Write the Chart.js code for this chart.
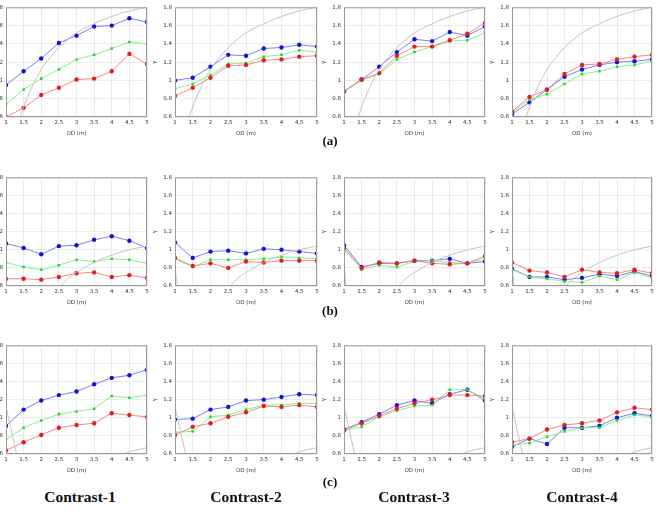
<!DOCTYPE html>
<html>
<head>
<meta charset="utf-8">
<script src="https://cdn.jsdelivr.net/npm/chart.js@4.4.1/dist/chart.umd.min.js"></script>
<style>
  html, body { margin: 0; padding: 0; background: #fff; }
  body { width: 660px; height: 512px; position: relative; overflow: hidden; }
  .panel { position: absolute; }
  .lbl { position: absolute; font-family: "Liberation Serif", serif; font-weight: bold; color: #111; text-align: center; }
</style>
</head>
<body>
<div id="wrap"></div>
<div class="lbl" style="left:300px;top:133px;width:60px;font-size:13px">(a)</div>
<div class="lbl" style="left:300px;top:303px;width:60px;font-size:13px">(b)</div>
<div class="lbl" style="left:300px;top:474px;width:60px;font-size:13px">(c)</div>
<div class="lbl" style="left:10px;top:488px;width:140px;font-size:15.5px">Contrast-1</div>
<div class="lbl" style="left:176px;top:488px;width:140px;font-size:15.5px">Contrast-2</div>
<div class="lbl" style="left:344px;top:488px;width:140px;font-size:15.5px">Contrast-3</div>
<div class="lbl" style="left:512px;top:488px;width:140px;font-size:15.5px">Contrast-4</div>

<script>
// Valores de OD (eje x) y ticks
const odValues = [1, 1.5, 2, 2.5, 3, 3.5, 4, 4.5, 5];
const xTicks = [1, 1.5, 2, 2.5, 3, 3.5, 4, 4.5, 5];
const yTicks = [0.6, 0.8, 1, 1.2, 1.4, 1.6, 1.8];

// Fila (a)
const a1Blue  = [0.95, 1.10, 1.24, 1.41, 1.49, 1.59, 1.60, 1.68, 1.64];
const a1Green = [0.74, 0.90, 1.02, 1.12, 1.23, 1.28, 1.35, 1.42, 1.40];
const a1Red   = [0.60, 0.70, 0.84, 0.92, 1.01, 1.02, 1.10, 1.29, 1.18];
const a2Blue  = [1.00, 1.03, 1.15, 1.28, 1.27, 1.35, 1.36, 1.39, 1.37];
const a2Green = [0.91, 0.96, 1.06, 1.18, 1.19, 1.26, 1.28, 1.33, 1.31];
const a2Red   = [0.83, 0.92, 1.03, 1.16, 1.17, 1.22, 1.23, 1.26, 1.27];
const a3Blue  = [0.88, 1.01, 1.15, 1.31, 1.45, 1.43, 1.53, 1.49, 1.59];
const a3Green = [0.88, 1.00, 1.07, 1.23, 1.31, 1.37, 1.43, 1.44, 1.52];
const a3Red   = [0.88, 1.01, 1.08, 1.27, 1.37, 1.37, 1.44, 1.51, 1.63];
const a4Blue  = [0.63, 0.76, 0.90, 1.04, 1.12, 1.17, 1.20, 1.21, 1.23];
const a4Green = [0.65, 0.79, 0.85, 0.96, 1.07, 1.10, 1.15, 1.17, 1.21];
const a4Red   = [0.66, 0.82, 0.90, 1.07, 1.17, 1.18, 1.23, 1.26, 1.28];

// Fila (b)
const b1Blue  = [1.07, 1.02, 0.95, 1.04, 1.05, 1.11, 1.15, 1.10, 1.02];
const b1Green = [0.86, 0.81, 0.78, 0.83, 0.89, 0.87, 0.90, 0.89, 0.85];
const b1Red   = [0.68, 0.68, 0.67, 0.70, 0.74, 0.75, 0.70, 0.72, 0.69];
const b2Blue  = [1.08, 0.91, 0.98, 0.99, 0.96, 1.01, 1.00, 0.98, 0.96];
const b2Green = [0.90, 0.81, 0.89, 0.89, 0.89, 0.90, 0.92, 0.91, 0.90];
const b2Red   = [0.91, 0.82, 0.85, 0.80, 0.87, 0.86, 0.88, 0.88, 0.88];
const b3Blue  = [1.05, 0.81, 0.85, 0.85, 0.88, 0.88, 0.90, 0.85, 0.87];
const b3Green = [1.00, 0.78, 0.83, 0.81, 0.87, 0.88, 0.86, 0.85, 0.90];
const b3Red   = [1.02, 0.80, 0.86, 0.85, 0.88, 0.85, 0.84, 0.85, 0.93];
const b4Blue  = [0.79, 0.70, 0.70, 0.67, 0.69, 0.73, 0.71, 0.76, 0.71];
const b4Green = [0.78, 0.70, 0.68, 0.65, 0.64, 0.71, 0.67, 0.75, 0.69];
const b4Red   = [0.86, 0.77, 0.75, 0.70, 0.78, 0.75, 0.74, 0.78, 0.74];

// Fila (c)
const c1Blue  = [0.91, 1.09, 1.19, 1.25, 1.29, 1.37, 1.44, 1.47, 1.53];
const c1Green = [0.76, 0.89, 0.97, 1.04, 1.07, 1.10, 1.24, 1.22, 1.25];
const c1Red   = [0.64, 0.73, 0.81, 0.89, 0.92, 0.94, 1.05, 1.03, 1.01];
const c2Blue  = [0.98, 0.99, 1.09, 1.12, 1.19, 1.20, 1.23, 1.26, 1.25];
const c2Green = [0.84, 0.85, 1.01, 1.03, 1.09, 1.14, 1.14, 1.16, 1.16];
const c2Red   = [0.81, 0.90, 0.94, 1.01, 1.06, 1.13, 1.12, 1.14, 1.12];
const c3Blue  = [0.87, 0.95, 1.04, 1.14, 1.19, 1.16, 1.26, 1.31, 1.19];
const c3Green = [0.86, 0.90, 1.01, 1.08, 1.13, 1.14, 1.31, 1.31, 1.21];
const c3Red   = [0.86, 0.94, 1.02, 1.10, 1.16, 1.20, 1.25, 1.25, 1.24];
const c4Blue  = [0.68, 0.77, 0.71, 0.89, 0.89, 0.91, 1.00, 1.05, 1.02];
const c4Green = [0.70, 0.72, 0.79, 0.85, 0.89, 0.89, 0.97, 1.03, 1.01];
const c4Red   = [0.73, 0.77, 0.87, 0.92, 0.94, 0.97, 1.06, 1.11, 1.09];

// Curvas grises de referencia
const curveAx = [1.3, 1.4, 1.5, 1.6, 1.8, 2, 2.25, 2.5, 3, 3.5, 4, 4.5, 5];
const curveAy = [0.46, 0.6, 0.71, 0.81, 0.98, 1.12, 1.25, 1.36, 1.52, 1.62, 1.7, 1.76, 1.8];
const curveBx = [2.3, 2.55, 2.75, 3, 3.5, 4, 4.5, 5];
const curveBy = [0.5, 0.6, 0.68, 0.75, 0.86, 0.94, 1.0, 1.04];
const curveBLx = [1, 1.04, 1.08];
const curveBLy = [0.8, 0.68, 0.55];
const curveCx = [1, 1.15, 1.3, 1.45, 4.0, 4.35, 4.65, 5];
const curveCy = [1.12, 0.86, 0.6, 0.34, 0.5, 0.6, 0.64, 0.67];

// Posiciones de los paneles (área de trazado)
const colLeft = [6, 175, 344, 512];
const colRight = [147, 317, 485, 652];
const rowTop = [5, 175, 343];
const rowBottom = [117, 286, 454];

const panels = [
  [[a1Blue, a1Green, a1Red], [a2Blue, a2Green, a2Red], [a3Blue, a3Green, a3Red], [a4Blue, a4Green, a4Red]],
  [[b1Blue, b1Green, b1Red], [b2Blue, b2Green, b2Red], [b3Blue, b3Green, b3Red], [b4Blue, b4Green, b4Red]],
  [[c1Blue, c1Green, c1Red], [c2Blue, c2Green, c2Red], [c3Blue, c3Green, c3Red], [c4Blue, c4Green, c4Red]],
];

function pts(xs, ys) {
  return xs.map((x, i) => ({ x, y: ys[i] }));
}

function curvesFor(row, col) {
  if (row === 0) return [pts(curveAx, curveAy)];
  if (row === 1) return col === 0 ? [pts(curveBx, curveBy)] : [pts(curveBx, curveBy), pts(curveBLx, curveBLy)];
  return [pts(curveCx, curveCy)];
}

// Marco del área de trazado
const boxFrame = {
  id: "boxFrame",
  afterDraw(chart) {
    const { ctx, chartArea: a } = chart;
    ctx.save();
    ctx.strokeStyle = "#9a9a9a";
    ctx.lineWidth = 1;
    ctx.strokeRect(a.left + 0.5, a.top + 0.5, a.right - a.left - 1, a.bottom - a.top - 1);
    ctx.restore();
  },
};

const L = 24, T = 4, R = 8, B = 20;
const tickFont = { family: "DejaVu Sans", size: 5.5 };

function drawPanel(row, col) {
  const [blue, green, red] = panels[row][col];
  const plotW = colRight[col] - colLeft[col];
  const plotH = rowBottom[row] - rowTop[row];
  const div = document.createElement("div");
  div.className = "panel";
  div.style.left = colLeft[col] - L + "px";
  div.style.top = rowTop[row] - T + "px";
  const canvas = document.createElement("canvas");
  canvas.width = plotW + L + R;
  canvas.height = plotH + T + B;
  div.appendChild(canvas);
  document.getElementById("wrap").appendChild(div);

  const serie = (vals, line, mark, style, r) => ({
    data: pts(odValues, vals),
    borderColor: line,
    backgroundColor: mark,
    pointBackgroundColor: mark,
    pointBorderColor: mark,
    pointBorderWidth: 0,
    pointStyle: style,
    pointRadius: r,
    borderWidth: 0.9,
  });

  const grayCurves = curvesFor(row, col).map((d) => ({
    data: d,
    borderColor: "#c4c4c4",
    borderWidth: 1,
    pointRadius: 0,
    cubicInterpolationMode: "monotone",
  }));

  new Chart(canvas, {
    type: "line",
    data: {
      datasets: [
        ...grayCurves,
        serie(red, "#f27a7a", "#e21f1f", "circle", 2.2),
        serie(green, "#7cef7c", "#2fd42f", "rect", 1.8),
        serie(blue, "#6f6ff5", "#1515d8", "circle", 2.2),
      ],
    },
    options: {
      responsive: false,
      animation: false,
      layout: { padding: { top: T, right: R, left: 0, bottom: 0 } },
      plugins: { legend: { display: false }, tooltip: { enabled: false } },
      scales: {
        x: {
          type: "linear",
          min: 1,
          max: 5,
          afterBuildTicks: (s) => { s.ticks = xTicks.map((v) => ({ value: v })); },
          afterFit: (s) => { s.height = B; },
          grid: { color: "#e6e6e6", lineWidth: 0.8, tickLength: 0 },
          border: { display: false },
          ticks: { font: tickFont, color: "#333", padding: 2, maxRotation: 0, autoSkip: false, callback: (v) => String(v) },
          title: { display: true, text: "OD (m)", font: tickFont, color: "#333", padding: { top: 0, bottom: 0 } },
        },
        y: {
          min: 0.6,
          max: 1.8,
          afterBuildTicks: (s) => { s.ticks = yTicks.map((v) => ({ value: v })); },
          afterFit: (s) => { s.width = L; },
          grid: { color: "#e6e6e6", lineWidth: 0.8, tickLength: 0 },
          border: { display: false },
          ticks: { font: tickFont, color: "#333", padding: 3, callback: (v) => String(v) },
          title: { display: true, text: "γ", font: tickFont, color: "#333", padding: 0 },
        },
      },
    },
    plugins: [boxFrame],
  });
}

for (let r = 0; r < 3; r++) {
  for (let c = 0; c < 4; c++) drawPanel(r, c);
}
</script>
</body>
</html>
